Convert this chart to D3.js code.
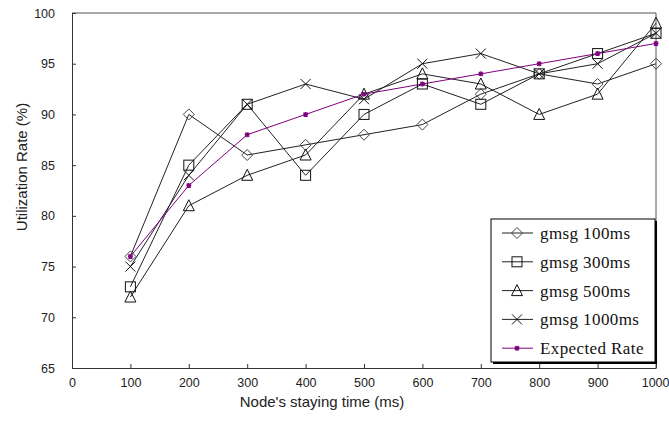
<!DOCTYPE html>
<html>
<head>
<meta charset="utf-8">
<script src="https://cdn.jsdelivr.net/npm/d3@7"></script>
<style>
  body { margin: 0; background: #fff; }
  svg { display: block; }
</style>
</head>
<body>
<svg id="chart" width="669" height="428"></svg>
<script>
"use strict";

//// data
const stayTimes = [100, 200, 300, 400, 500, 600, 700, 800, 900, 1000];
const gmsg100  = [76, 90, 86, 87, 88, 89, 92, 94, 93, 95];
const gmsg300  = [73, 85, 91, 84, 90, 93, 91, 94, 96, 98];
const gmsg500  = [72, 81, 84, 86, 92, 94, 93, 90, 92, 99];
const gmsg1000 = [75, 84, 91, 93, 91.5, 95, 96, 94, 95, 98];
const expected = [76, 83, 88, 90, 92, 93, 94, 95, 96, 97];
const xTicks = [0, 100, 200, 300, 400, 500, 600, 700, 800, 900, 1000];
const yTicks = [65, 70, 75, 80, 85, 90, 95, 100];

const series = [
    { name: "gmsg 100ms",   values: gmsg100,  marker: "diamond",  color: "#222" },
    { name: "gmsg 300ms",   values: gmsg300,  marker: "square",   color: "#222" },
    { name: "gmsg 500ms",   values: gmsg500,  marker: "triangle", color: "#222" },
    { name: "gmsg 1000ms",  values: gmsg1000, marker: "cross",    color: "#222" },
    { name: "Expected Rate", values: expected, marker: "star",    color: "#800080" }
];

//// layout
const svg = d3.select("#chart");
const plot = { left: 72, top: 13, right: 656, bottom: 368 };

const x = d3.scaleLinear().domain([0, 1000]).range([plot.left, plot.right]);
const y = d3.scaleLinear().domain([65, 100]).range([plot.bottom, plot.top]);

const tickFont = "'Liberation Sans', Arial, sans-serif";
const titleFont = "'Liberation Sans', Arial, sans-serif";

// frame on top and right
svg.append("path")
    .attr("d", `M${plot.left},${plot.top}H${plot.right}V${plot.bottom}`)
    .attr("fill", "none")
    .attr("stroke", "#555");

// axes, ticks pointing inward
const xAxis = svg.append("g")
    .attr("transform", `translate(0,${plot.bottom})`)
    .call(d3.axisBottom(x).tickValues(xTicks).tickFormat(d3.format("d"))
        .tickSizeInner(-4).tickSizeOuter(0).tickPadding(10));
const yAxis = svg.append("g")
    .attr("transform", `translate(${plot.left},0)`)
    .call(d3.axisLeft(y).tickValues(yTicks).tickFormat(d3.format("d"))
        .tickSizeInner(-4).tickSizeOuter(0).tickPadding(17));

[xAxis, yAxis].forEach(function(g) {
    g.select(".domain").attr("stroke", "#333");
    g.selectAll(".tick line").attr("stroke", "#333");
    g.selectAll(".tick text")
        .attr("fill", "#222")
        .style("font-family", tickFont)
        .style("font-size", "12.5px");
});
// keep the last x label inside the window
xAxis.selectAll(".tick text")
    .filter(function(d) { return d === 1000; })
    .attr("text-anchor", "end")
    .attr("x", 13);

// axis titles
svg.append("text")
    .attr("x", 322).attr("y", 407)
    .attr("text-anchor", "middle")
    .style("font-family", titleFont)
    .style("font-size", "15px")
    .attr("fill", "#222")
    .text("Node's staying time (ms)");

svg.append("text")
    .attr("transform", "translate(27,167) rotate(-90)")
    .attr("text-anchor", "middle")
    .style("font-family", titleFont)
    .style("font-size", "15px")
    .attr("fill", "#222")
    .text("Utilization Rate (%)");

//// markers
function drawMarker(g, type, color) {
    if (type === "diamond") {
        g.append("path").attr("d", "M0,-5.5L5.5,0L0,5.5L-5.5,0Z")
            .attr("fill", "none").attr("stroke", "#444");
    } else if (type === "square") {
        g.append("rect").attr("x", -5).attr("y", -5).attr("width", 10).attr("height", 10)
            .attr("fill", "none").attr("stroke", "#111");
    } else if (type === "triangle") {
        g.append("path").attr("d", "M0,-6L5.5,5L-5.5,5Z")
            .attr("fill", "none").attr("stroke", "#111");
    } else if (type === "cross") {
        g.append("path").attr("d", "M-5,-5L5,5M5,-5L-5,5")
            .attr("fill", "none").attr("stroke", "#111");
    } else if (type === "star") {
        g.append("path").attr("d", "M-2.5,0H2.5M0,-2.5V2.5M-2,-2L2,2M2,-2L-2,2")
            .attr("fill", "none").attr("stroke", color).attr("stroke-width", 1.3);
    }
}

const line = d3.line()
    .x(function(d, i) { return x(stayTimes[i]); })
    .y(function(d) { return y(d); });

series.forEach(function(s) {
    svg.append("path")
        .datum(s.values)
        .attr("d", line)
        .attr("fill", "none")
        .attr("stroke", s.color)
        .attr("stroke-width", 1);
});

series.forEach(function(s) {
    s.values.forEach(function(v, i) {
        const g = svg.append("g")
            .attr("transform", `translate(${x(stayTimes[i])},${y(v)})`);
        drawMarker(g, s.marker, s.color);
    });
});

//// legend
const legend = svg.append("g").attr("transform", "translate(491,219)");
const legendW = 164, legendH = 143;
legend.append("rect")
    .attr("x", 2).attr("y", 2).attr("width", legendW).attr("height", legendH)
    .attr("fill", "#000");
legend.append("rect")
    .attr("x", 0).attr("y", 0).attr("width", legendW).attr("height", legendH)
    .attr("fill", "#fff").attr("stroke", "#000");

series.forEach(function(s, i) {
    const row = legend.append("g").attr("transform", `translate(0,${14 + i * 28.8})`);
    row.append("line")
        .attr("x1", 11).attr("x2", 42)
        .attr("stroke", s.color);
    drawMarker(row.append("g").attr("transform", "translate(26,0)"), s.marker, s.color);
    row.append("text")
        .attr("x", 49).attr("y", 6)
        .style("font-family", "'Liberation Serif', 'DejaVu Serif', serif")
        .style("font-size", "17px")
        .style("letter-spacing", "0.4px")
        .attr("fill", "#111")
        .text(s.name);
});
</script>
</body>
</html>
